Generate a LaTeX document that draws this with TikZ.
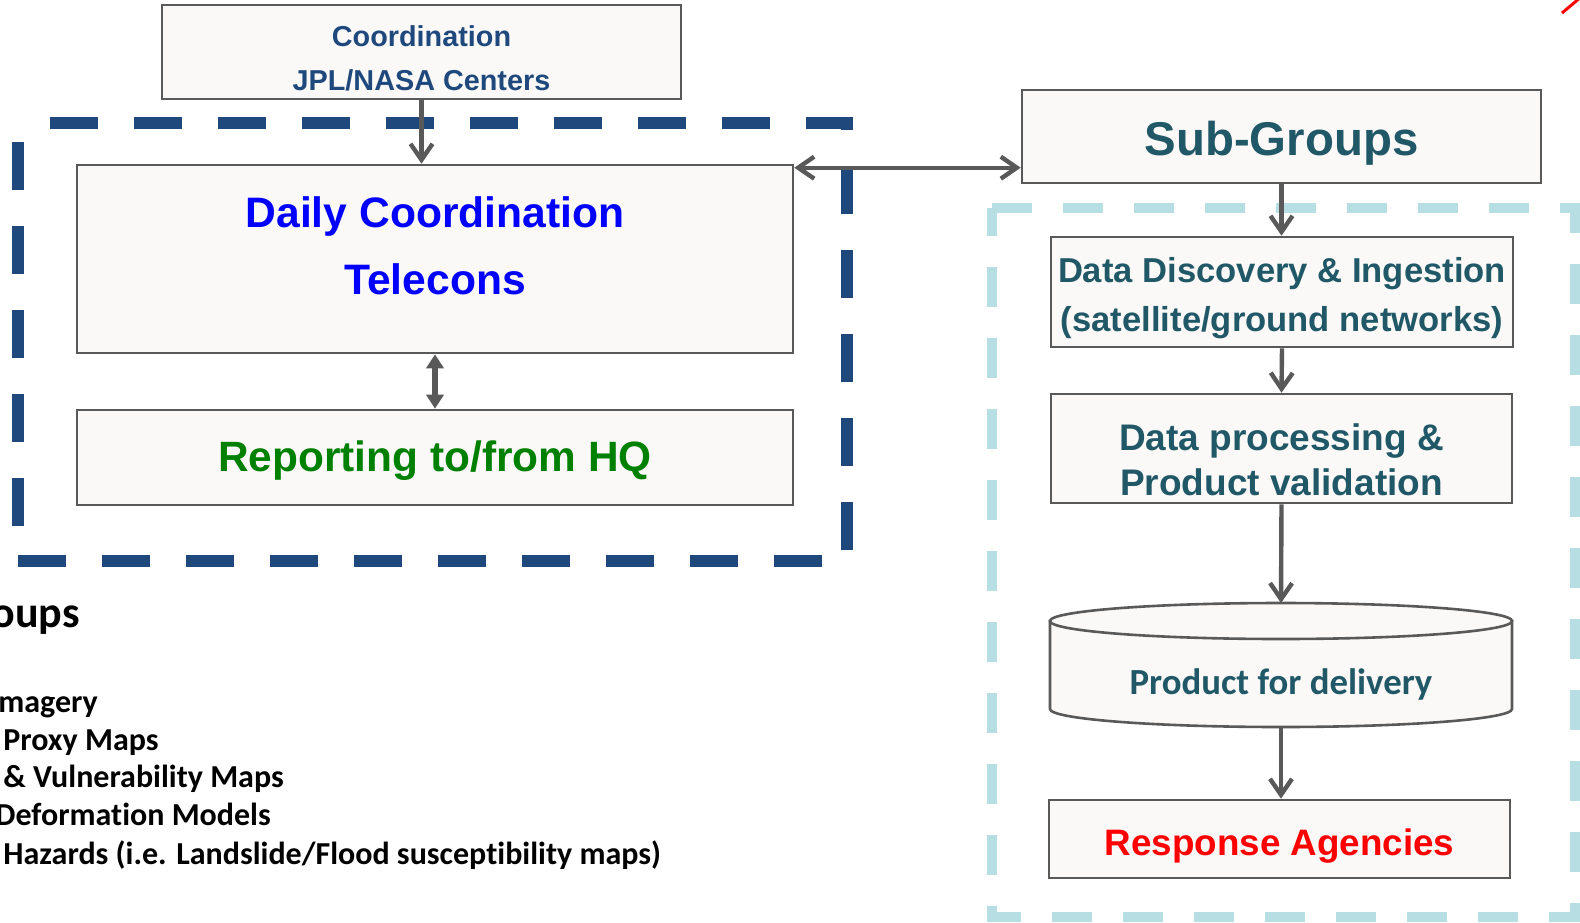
\documentclass[tikz,border=0pt]{standalone}
\usepackage{fontspec}
\setmainfont{Liberation Sans}
\newfontfamily\calibri[Ligatures={NoCommon}]{Carlito}
\usetikzlibrary{arrows.meta,calc}

\definecolor{frameblue}{RGB}{31,73,125}
\definecolor{framecyan}{RGB}{183,222,226}
\definecolor{boxfill}{RGB}{250,249,247}
\definecolor{boxline}{RGB}{89,89,89}
\definecolor{groupteal}{RGB}{33,88,104}
\definecolor{dailyblue}{RGB}{0,0,255}
\definecolor{hqgreen}{RGB}{0,128,0}

\begin{document}
\begin{tikzpicture}[
  x=0.5pt, y=-0.5pt,
  box/.style={draw=boxline, fill=boxfill, line width=1.3pt, inner sep=0pt},
  txt/.style={align=center, inner sep=0pt},
  arr/.style={draw=boxline, line width=2.2pt, -{Straight Barb[length=8pt,width=11pt]}},
  arrboth/.style={arr, {Straight Barb[length=8pt,width=11pt]}-{Straight Barb[length=8pt,width=11pt]}},
  tri/.style={draw=boxline, line width=2.6pt, {Triangle[length=7pt,width=8.5pt]}-{Triangle[length=7pt,width=8.5pt]}},
  frame/.style={line width=6pt, dash pattern=on 24pt off 18pt},
  listtxt/.style={anchor=base west, inner sep=0pt, font=\calibri\bfseries\fontsize{16}{19}\selectfont}
]
\useasboundingbox (0,0) rectangle (1580,922);
\clip (0,0) rectangle (1580,922);

% Dashed group frames go underneath everything else.
\draw[frame, draw=frameblue, dash phase=25.75pt]
  (17.5,123) -- (847,123) -- (847,561) -- (17.5,561) -- cycle;
\draw[framecyan, line width=5pt, dash pattern=on 20pt off 15.5pt]
  (992,208) -- (1575,208) -- (1575,917) -- (992,917) -- cycle;

% Left column: coordination boxes.
\node[box, minimum width=259.5pt, minimum height=47pt] (coord) at (421.5,52) {};
\node[txt, text=frameblue, font=\bfseries\fontsize{14.4}{21.7}\selectfont] (coord-t) at (421.5,58.5)
  {Coordination\\JPL/NASA Centers};

\node[box, minimum width=358pt, minimum height=94pt] (daily) at (435,259) {};
\node[txt, text=dailyblue, font=\bfseries\fontsize{21.3}{33.5}\selectfont] (daily-t) at (435,245.5)
  {Daily Coordination\\Telecons};

\node[box, minimum width=358pt, minimum height=47.5pt] (report) at (435,457.5) {};
\node[txt, text=hqgreen, font=\bfseries\fontsize{21.2}{25}\selectfont] (report-t) at (435,461)
  {Reporting to/from HQ};

% Right column: sub-group pipeline.
\node[box, minimum width=259.5pt, minimum height=46.5pt] (subg) at (1281.5,136.5) {};
\node[txt, text=groupteal, font=\bfseries\fontsize{23.7}{28}\selectfont] (subg-t) at (1281.5,143)
  {Sub-Groups};

\node[box, minimum width=231pt, minimum height=55pt] (discov) at (1282,292) {};
\node[txt, text=groupteal, font=\bfseries\fontsize{17.3}{24.5}\selectfont] (discov-t) at (1282,298)
  {Data Discovery \& Ingestion\\(satellite/ground networks)};

\node[box, minimum width=230.5pt, minimum height=54.5pt] (proc) at (1281.5,448.5) {};
\node[txt, text=groupteal, font=\bfseries\fontsize{18.5}{22.5}\selectfont] (proc-t) at (1281.5,460)
  {Data processing \&\\Product validation};

% Delivery store drawn as a flat cylinder.
\filldraw[box] (1050,621) -- (1050,709)
  arc[start angle=180, end angle=360, x radius=115.5pt, y radius=9pt]
  -- (1512,621) -- cycle;
\filldraw[box] (1281,621) ellipse[x radius=115.5pt, y radius=9pt];
\coordinate (prod-top) at (1281,603);
\coordinate (prod-bot) at (1281,727);
\node[txt, text=groupteal, font=\calibri\bfseries\fontsize{18.4}{22}\selectfont] (prod) at (1281,684)
  {Product for delivery};

\node[box, minimum width=230.5pt, minimum height=39pt] (resp) at (1279.5,839) {};
\node[txt, text=red, font=\bfseries\fontsize{18.4}{22}\selectfont] (resp-t) at (1279.5,846)
  {Response Agencies};

% Connectors.
\draw[arr] (coord.south) -- (coord.south |- daily.north);
\coordinate (link) at ($(daily.north east)+(0,4)$);
\draw[arrboth] (link) -- (link -| subg.west);
\draw[tri] (daily.south) -- (report.north);
\draw[arr] (subg.south) -- (subg.south |- discov.north);
\draw[arr] (discov.south) -- (proc.north);
\draw[arr] (proc.south) -- (prod-top);
\draw[arr] (prod-bot) -- (prod-bot |- resp.north);

% Product list on the left edge.
\node[listtxt, font=\calibri\bfseries\fontsize{22}{26}\selectfont] (grp) at (-9,627) {oups};
\node[listtxt] (item1) at (-2,712) {magery};
\node[listtxt] (item2) at (3,750) {Proxy Maps};
\node[listtxt] (item3) at (3,787) {\& Vulnerability Maps};
\node[listtxt] (item4) at (-5,825) {Deformation Models};
\node[listtxt] (item5) at (3,864) {Hazards (i.e. Landslide/Flood susceptibility maps)};

% Corner mark.
\draw[red, line width=1.5pt] (1562,13) -- (1581,-3);
\end{tikzpicture}
\end{document}
